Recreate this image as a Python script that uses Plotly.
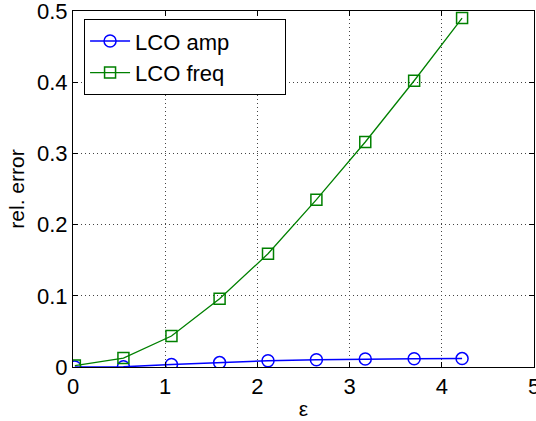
import plotly.graph_objects as go

# Relative error of the LCO amplitude and frequency versus epsilon
eps = [0.02, 0.547, 1.068, 1.59, 2.115, 2.64, 3.17, 3.70, 4.22]
amp_err = [0.0, 0.0003, 0.0035, 0.0062, 0.0088, 0.0102, 0.0112, 0.0116, 0.0118]
freq_err = [0.002, 0.0126, 0.0435, 0.096, 0.159, 0.235, 0.316, 0.402, 0.490]

x_ticks = [0, 1, 2, 3, 4, 5]
y_ticks = [0, 0.1, 0.2, 0.3, 0.4, 0.5]
y_labels = ["0", "0.1", "0.2", "0.3", "0.4", "0.5"]

FONT = "Liberation Sans, Arial, Helvetica, sans-serif"
PAD = "\u00a0" * 9  # right padding inside the legend box

fig = go.Figure()
fig.add_trace(go.Scatter(
    x=eps, y=amp_err, name="LCO amp", mode="lines+markers", legendgroup="amp",
    line=dict(color="#0000ff", width=1.5),
    marker=dict(symbol="circle-open", size=12, color="#0000ff",
                line=dict(width=1.5, color="#0000ff")),
))
fig.add_trace(go.Scatter(
    x=eps, y=freq_err, name="LCO freq" + PAD, mode="lines+markers", legendgroup="freq",
    line=dict(color="#008000", width=1.3),
    marker=dict(symbol="square-open", size=11, color="#008000",
                line=dict(width=1.5, color="#008000")),
))

axis_common = dict(
    showline=True, linecolor="black", linewidth=1, mirror="ticks",
    ticks="inside", ticklen=5, tickcolor="black", ticklabeloverflow="allow",
    automargin=False,
    showgrid=True, gridcolor="#444444", gridwidth=1, griddash="1px,3px",
    zeroline=False, tickfont=dict(family=FONT, size=22, color="black"),
)

fig.update_layout(
    width=536, height=421,
    margin=dict(l=73, r=2, t=11, b=54),
    paper_bgcolor="white", plot_bgcolor="white",
    font=dict(family=FONT, size=22, color="black"),
    xaxis=dict(range=[0, 5], tickvals=x_ticks,
               title=dict(text="ε", font=dict(family=FONT, size=21), standoff=2),
               **axis_common),
    yaxis=dict(range=[0, 0.5], tickvals=y_ticks, ticktext=y_labels,
               title=dict(text="rel. error", font=dict(family=FONT, size=21), standoff=6),
               **axis_common),
    legend=dict(x=0.024, y=0.977, xanchor="left", yanchor="top",
                bgcolor="white", bordercolor="black", borderwidth=1,
                tracegroupgap=0, itemwidth=40,
                font=dict(family=FONT, size=22, color="black")),
    showlegend=True,
)

fig.write_html("out.html")
